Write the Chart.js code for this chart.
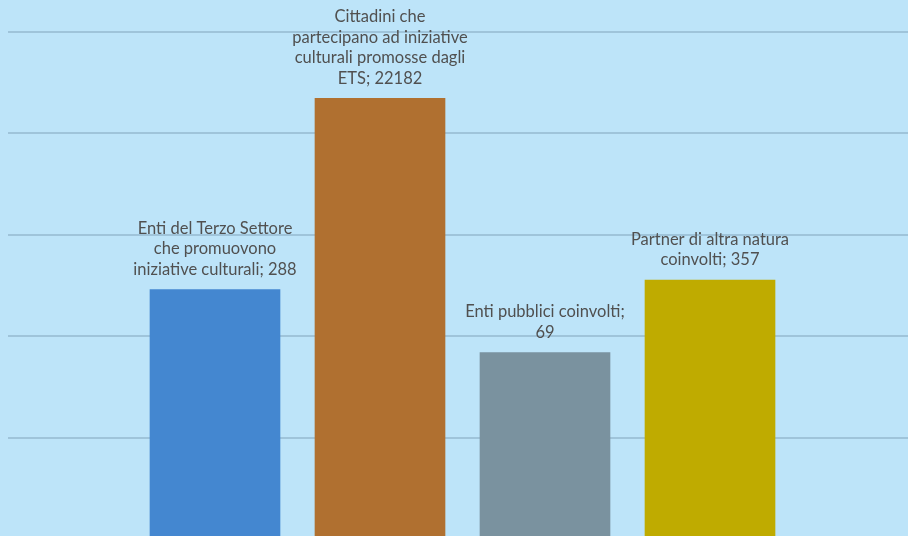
<!DOCTYPE html>
<html>
<head>
<meta charset="utf-8">
<script src="https://cdn.jsdelivr.net/npm/chart.js@4"></script>
<style>
  html, body { margin: 0; padding: 0; overflow: hidden; background: #bde4f9; }
  canvas { display: block; }
</style>
</head>
<body>
<canvas id="canvas" width="908" height="540"></canvas>
<script>
var categories = [
  ['Enti del Terzo Settore', 'che promuovono', 'iniziative culturali; 288'],
  ['Cittadini che', 'partecipano ad iniziative', 'culturali promosse dagli', 'ETS; 22182'],
  ['Enti pubblici coinvolti;', '69'],
  ['Partner di altra natura', 'coinvolti; 357']
];
var values = [288, 22182, 69, 357];
var colors = ['#4487d0', '#b07030', '#7a929f', '#bfab00'];

var ctx = document.getElementById('canvas').getContext('2d');

// text labels above each bar, Excel style
var barLabels = {
  id: 'barLabels',
  afterDatasetsDraw: function (chart) {
    var c = chart.ctx;
    var bars = chart.getDatasetMeta(0).data;
    c.save();
    c.font = '16.5px Lato';
    c.fillStyle = '#505050';
    c.textAlign = 'center';
    c.textBaseline = 'middle';
    bars.forEach(function (bar, i) {
      var lines = categories[i];
      for (var k = 0; k < lines.length; k++) {
        var y = bar.y - 20 - (lines.length - 1 - k) * 20.5;
        c.fillText(lines[k], bar.x, y);
      }
    });
    c.restore();
  }
};

function isDecade(v) {
  var l = Math.log10(v);
  return Math.abs(l - Math.round(l)) < 1e-6;
}

var myChart = new Chart(ctx, {
  type: 'bar',
  data: {
    datasets: [{
      data: values.map(function (v, i) { return { x: i, y: v }; }),
      backgroundColor: colors,
      borderWidth: 0,
      barThickness: 130
    }]
  },
  options: {
    responsive: false,
    animation: false,
    layout: { padding: { left: 8, top: 32, right: 0, bottom: 1 } },
    plugins: {
      legend: { display: false },
      tooltip: { enabled: false }
    },
    scales: {
      x: {
        type: 'linear',
        display: false,
        offset: false,
        min: -1.2545,
        max: 4.2
      },
      y: {
        type: 'logarithmic',
        min: 1,
        max: 100000,
        border: { display: false },
        grid: {
          color: function (c) { return isDecade(c.tick.value) ? '#9fc4da' : 'rgba(0,0,0,0)'; },
          lineWidth: 2,
          drawTicks: false
        },
        ticks: { display: false }
      }
    }
  },
  plugins: [barLabels]
});
</script>
</body>
</html>
